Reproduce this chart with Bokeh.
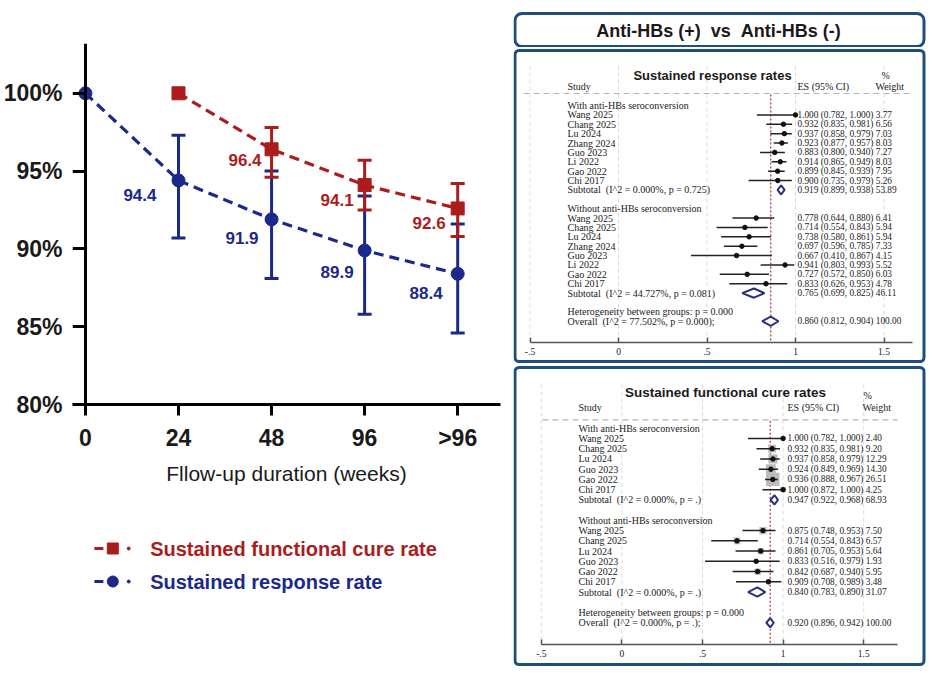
from bokeh.plotting import figure
from bokeh.layouts import row, column
from bokeh.models import Range1d, FixedTicker, LinearAxis, BoxAnnotation, ColumnDataSource
from bokeh.core.properties import value
from bokeh.embed import file_html
from bokeh.resources import INLINE

NB = "\u00a0"  # keeps doubled spaces visible in SVG text

# ---------------- follow-up chart data ----------------
weeks = ["0", "24", "48", "96", ">96"]

response_rate = [100.0, 94.4, 91.9, 89.9, 88.4]
response_lower = [None, 90.7, 88.1, 85.8, 84.6]
response_upper = [None, 97.3, 95.0, 93.4, 91.6]

cure_weeks = ["24", "48", "96", ">96"]
cure_rate = [100.0, 96.4, 94.1, 92.6]
cure_lower = [None, 94.6, 92.5, 90.8]
cure_upper = [None, 97.8, 95.7, 94.2]

y_ticks = [80, 85, 90, 95, 100]
y_tick_labels = ["80%", "85%", "90%", "95%", "100%"]

# ---------------- forest plot data ----------------
resp_with = dict(
    name="With anti-HBs seroconversion",
    study=["Wang 2025", "Chang 2025", "Lu 2024", "Zhang 2024", "Guo 2023", "Li 2022", "Gao 2022", "Chi 2017"],
    es=[1.000, 0.932, 0.937, 0.923, 0.883, 0.914, 0.899, 0.900],
    lo=[0.782, 0.835, 0.858, 0.877, 0.800, 0.865, 0.845, 0.735],
    hi=[1.000, 0.981, 0.979, 0.957, 0.940, 0.949, 0.939, 0.979],
    wt=[3.77, 6.56, 7.03, 8.03, 7.27, 8.03, 7.95, 5.26],
    sub=[0.919, 0.899, 0.938, 53.89],
    sub_label="Subtotal" + NB + NB + "(I^2 = 0.000%, p = 0.725)",
)
resp_without = dict(
    name="Without anti-HBs seroconversion",
    study=["Wang 2025", "Chang 2025", "Lu 2024", "Zhang 2024", "Guo 2023", "Li 2022", "Gao 2022", "Chi 2017"],
    es=[0.778, 0.714, 0.738, 0.697, 0.667, 0.941, 0.727, 0.833],
    lo=[0.644, 0.554, 0.580, 0.596, 0.410, 0.803, 0.572, 0.626],
    hi=[0.880, 0.843, 0.861, 0.785, 0.867, 0.993, 0.850, 0.953],
    wt=[6.41, 5.94, 5.94, 7.33, 4.15, 5.52, 6.03, 4.78],
    sub=[0.765, 0.699, 0.825, 46.11],
    sub_label="Subtotal" + NB + NB + "(I^2 = 44.727%, p = 0.081)",
)
resp_overall = [0.860, 0.812, 0.904, 100.00]
resp_overall_label = "Overall" + NB + NB + "(I^2 = 77.502%, p = 0.000);"

cure_with = dict(
    name="With anti-HBs seroconversion",
    study=["Wang 2025", "Chang 2025", "Lu 2024", "Guo 2023", "Gao 2022", "Chi 2017"],
    es=[1.000, 0.932, 0.937, 0.924, 0.936, 1.000],
    lo=[0.782, 0.835, 0.858, 0.849, 0.888, 0.872],
    hi=[1.000, 0.981, 0.979, 0.969, 0.967, 1.000],
    wt=[2.40, 9.20, 12.29, 14.30, 26.51, 4.25],
    sub=[0.947, 0.922, 0.968, 68.93],
    sub_label="Subtotal" + NB + NB + "(I^2 = 0.000%, p = .)",
)
cure_without = dict(
    name="Without anti-HBs seroconversion",
    study=["Wang 2025", "Chang 2025", "Lu 2024", "Guo 2023", "Gao 2022", "Chi 2017"],
    es=[0.875, 0.714, 0.861, 0.833, 0.842, 0.909],
    lo=[0.748, 0.554, 0.705, 0.516, 0.687, 0.708],
    hi=[0.953, 0.843, 0.953, 0.979, 0.940, 0.989],
    wt=[7.50, 6.57, 5.64, 1.93, 5.95, 3.48],
    sub=[0.840, 0.783, 0.890, 31.07],
    sub_label="Subtotal" + NB + NB + "(I^2 = 0.000%, p = .)",
)
cure_overall = [0.920, 0.896, 0.942, 100.00]
cure_overall_label = "Overall" + NB + NB + "(I^2 = 0.000%, p = .);"

het_label = "Heterogeneity between groups: p = 0.000"
forest_ticks = [-0.5, 0, 0.5, 1, 1.5]
forest_tick_labels = ["-.5", "0", ".5", "1", "1.5"]

header_title = "Anti-HBs (+)" + NB + NB + "vs" + NB + NB + "Anti-HBs (-)"

# ---------------- styling ----------------
BLUE = "#1b2a8a"
RED = "#ab1d1d"
BORDER = "#1d4e7e"
DIAMOND = "#2a2e80"
REFLINE = "#b23a48"
INK = "#1a1a1a"
SANS = "Liberation Sans"
SERIF = "Liberation Serif"


def put_text(fig, x, y, s, size, font=SERIF, style="normal", color=INK, align="left"):
    fig.text(x=[x], y=[y], text=[s], text_font=value(font), text_font_size=size,
             text_font_style=style, text_color=color, text_align=align, text_baseline="middle")


def bare(fig):
    fig.outline_line_color = None
    fig.grid.visible = False
    fig.xgrid.visible = False
    fig.ygrid.visible = False


def frame_box(left, right, top, bottom, radius):
    return BoxAnnotation(left=left, right=right, top=top, bottom=bottom,
                         fill_color=None, fill_alpha=0, line_color=BORDER, line_alpha=1.0,
                         line_width=3, border_radius=radius)


# ================= follow-up chart =================
p = figure(width=513, height=500, x_range=Range1d(-0.139, 4.46), y_range=Range1d(80, 103.2),
           output_backend="svg", toolbar_location=None,
           min_border_left=70, min_border_right=13, min_border_top=43, min_border_bottom=96)
bare(p)

label_font = dict(major_label_text_font=SANS, major_label_text_font_style="bold",
                  major_label_text_font_size="23px", major_label_text_color=INK)

# y tick labels sit on the ordinary left axis; the axis line and ticks are drawn at week 0
ylab = p.yaxis[0]
ylab.ticker = FixedTicker(ticks=y_ticks)
ylab.major_label_overrides = dict(zip(y_ticks, y_tick_labels))
ylab.axis_line_color = None
ylab.major_tick_line_color = None
ylab.minor_tick_line_color = None
ylab.major_label_standoff = 4
for k, v in label_font.items():
    setattr(ylab, k, v)

yline = LinearAxis(fixed_location=0, ticker=FixedTicker(ticks=y_ticks),
                   major_label_text_alpha=0, major_label_text_font_size="1px")
yline.axis_line_width = 3
yline.axis_line_color = "black"
yline.major_tick_line_width = 3
yline.major_tick_line_color = "black"
yline.major_tick_in = 0
yline.major_tick_out = 13
yline.minor_tick_in = 0
yline.minor_tick_out = 0
p.add_layout(yline, "left")

x_pos = list(range(len(weeks)))
xa = p.xaxis[0]
xa.ticker = FixedTicker(ticks=x_pos)
xa.major_label_overrides = dict(zip(x_pos, weeks))
xa.axis_line_width = 3
xa.axis_line_color = "black"
xa.major_tick_line_width = 3
xa.major_tick_line_color = "black"
xa.major_tick_in = 0
xa.major_tick_out = 11
xa.minor_tick_in = 0
xa.minor_tick_out = 0
xa.major_label_standoff = 9
for k, v in label_font.items():
    setattr(xa, k, v)
xa.axis_label = "Fllow-up duration (weeks)"
xa.axis_label_text_font = SANS
xa.axis_label_text_font_style = "normal"
xa.axis_label_text_font_size = "21px"
xa.axis_label_text_color = INK
xa.axis_label_standoff = 8


def series(fig, xs, ys, lows, highs, color, marker, labels_dx, labels_dy):
    bx = [x for x, l in zip(xs, lows) if l is not None]
    bl = [l for l in lows if l is not None]
    bh = [h for h in highs if h is not None]
    fig.segment(x0=bx, y0=bl, x1=bx, y1=bh, line_color=color, line_width=3)
    fig.scatter(x=bx + bx, y=bl + bh, marker="dash", size=14, line_color=color, line_width=3)
    fig.line(x=xs, y=ys, line_color=color, line_width=3.2, line_dash="10 6")
    fig.scatter(x=xs, y=ys, marker=marker, size=13, fill_color=color, line_color=color)
    ly = [y for y, l in zip(ys, lows) if l is not None]
    src = ColumnDataSource(dict(x=bx, y=ly, text=[f"{v:.1f}" for v in ly],
                                dx=labels_dx, dy=labels_dy))
    fig.text(x="x", y="y", text="text", x_offset="dx", y_offset="dy", source=src,
             text_font=value(SANS), text_font_style="bold", text_font_size="17px",
             text_color=color, text_align="right", text_baseline="middle")


series(p, x_pos, response_rate, response_lower, response_upper, BLUE, "circle",
       [-22, -13, -11, -15], [15, 19, 22, 19])
cure_x = [weeks.index(w) for w in cure_weeks]
series(p, cure_x, cure_rate, cure_lower, cure_upper, RED, "square",
       [-10, -11, -12], [11, 15, 15])

# ---------------- legend (frame shares the chart's 70..500 px columns) ----------------
leg = figure(width=513, height=175, x_range=Range1d(70, 500), y_range=Range1d(675, 500),
             x_axis_location=None, y_axis_location=None,
             min_border_left=70, min_border_right=13, min_border_top=0, min_border_bottom=0,
             output_backend="svg", toolbar_location=None)
bare(leg)
legend_items = [("Sustained functional cure rate", RED, "square", 548),
                ("Sustained response rate", BLUE, "circle", 581)]
for label, color, marker, yy in legend_items:
    leg.segment(x0=[92], y0=[yy], x1=[101], y1=[yy], line_color=color, line_width=3)
    leg.scatter(x=[110.5], y=[yy], marker=marker, size=11, fill_color=color, line_color=color)
    leg.scatter(x=[126.5], y=[yy], marker="circle", size=3, fill_color=color, line_color=color)
    put_text(leg, 148, yy, label, "20px", font=SANS, style="bold", color=color)

# ================= header box =================
head = figure(width=429, height=47, x_range=Range1d(513, 942), y_range=Range1d(47, 0),
              x_axis_location=None, y_axis_location=None, min_border=0,
              output_backend="svg", toolbar_location=None)
bare(head)
head.add_layout(frame_box(514.5, 923.5, 13, 46, 7))
put_text(head, 718, 30, header_title, "18px", font=SANS, style="bold", color=INK, align="center")


# ================= forest plots =================
def make_forest(title, groups, overall, overall_label, g):
    X0, XS, Y0, YS = g["X0"], g["XS"], g["Y0"], g["YS"]

    def vx(px):
        return (px - X0) / XS

    def ry(py):
        return (py - Y0) / YS

    top, h = g["page_top"], g["height"]
    f = figure(width=429, height=h, x_range=Range1d(vx(513), vx(942)),
               y_range=Range1d(ry(top + h), ry(top)), x_axis_location=None, y_axis_location=None,
               min_border=0, output_backend="svg", toolbar_location=None)
    bare(f)
    axis_row = ry(g["axis_py"])

    # faint vertical guides at the tick positions
    f.segment(x0=forest_ticks, x1=forest_ticks, y0=[ry(g["grid_py"])] * len(forest_ticks),
              y1=[axis_row] * len(forest_ticks), line_color="#dcdcdc", line_width=1,
              line_dash="4 3")
    # header separator
    f.segment(x0=[vx(g["sep_x0"])], x1=[vx(g["sep_x1"])], y0=[ry(g["sep_py"])], y1=[ry(g["sep_py"])],
              line_color="#b4b4b4", line_width=1.2, line_dash="6 4")
    # overall estimate reference line
    f.segment(x0=[overall[0]], x1=[overall[0]], y0=[ry(g["sep_py"]) + 0.1], y1=[axis_row],
              line_color=REFLINE, line_width=1.3, line_dash="2 2")

    lab_y, lab_t = [], []
    s_es, s_lo, s_hi, s_wt, s_y = [], [], [], [], []
    d_xs, d_ys = [], []
    v_y, v_t = [], []
    half = 4.6 / YS
    r = 0
    for grp in groups:
        lab_y.append(r); lab_t.append(grp["name"]); r += 1
        for name, es, lo, hi, wt in zip(grp["study"], grp["es"], grp["lo"], grp["hi"], grp["wt"]):
            lab_y.append(r); lab_t.append(name)
            s_es.append(es); s_lo.append(lo); s_hi.append(hi); s_wt.append(wt); s_y.append(r)
            v_y.append(r); v_t.append(f"{es:.3f} ({lo:.3f}, {hi:.3f}) {wt:.2f}")
            r += 1
        es, lo, hi, wt = grp["sub"]
        lab_y.append(r); lab_t.append(grp["sub_label"])
        d_xs.append([lo, es, hi, es]); d_ys.append([r, r - half, r, r + half])
        v_y.append(r); v_t.append(f"{es:.3f} ({lo:.3f}, {hi:.3f}) {wt:.2f}")
        r += 2
    lab_y.append(r); lab_t.append(het_label); r += 1
    es, lo, hi, wt = overall
    lab_y.append(r); lab_t.append(overall_label)
    d_xs.append([lo, es, hi, es]); d_ys.append([r, r - half, r, r + half])
    v_y.append(r); v_t.append(f"{es:.3f} ({lo:.3f}, {hi:.3f}) {wt:.2f}")

    if g["boxes"]:
        f.scatter(x=s_es, y=s_y, marker="square", size=[2.6 * w ** 0.5 for w in s_wt],
                  fill_color="#bcbcbc", line_color=None)
    f.segment(x0=s_lo, x1=s_hi, y0=s_y, y1=s_y, line_color="#222222", line_width=1.5)
    f.scatter(x=s_es, y=s_y, marker="circle", size=4.5, fill_color="#111111", line_color="#111111")
    f.patches(xs=d_xs, ys=d_ys, fill_color="white", line_color=DIAMOND, line_width=2)

    f.text(x=[vx(g["lab_px"])] * len(lab_y), y=lab_y, text=lab_t, text_font=value(SERIF),
           text_font_size="10px", text_color=INK, text_baseline="middle")
    f.text(x=[vx(g["es_px"])] * len(v_y), y=v_y, text=v_t, text_font=value(SERIF),
           text_font_size="9.3px", text_color=INK, text_baseline="middle")

    put_text(f, vx(g["lab_px"]), ry(g["hdr_py"]), "Study", "10px")
    put_text(f, vx(g["es_px"]), ry(g["hdr_py"]), "ES (95% CI)", "10px")
    put_text(f, vx(g["wt_px"]), ry(g["hdr_py"]), "Weight", "10px")
    put_text(f, vx(g["pct_px"]), ry(g["pct_py"]), "%", "10px")
    put_text(f, vx(g["title_px"]), ry(g["title_py"]), title, g["title_size"], font=SANS,
             style="bold", align="center")

    ax = LinearAxis(fixed_location=axis_row, bounds=(-0.5, g["axis_end"]),
                    ticker=FixedTicker(ticks=forest_ticks),
                    major_label_overrides=dict(zip(forest_ticks, forest_tick_labels)))
    ax.axis_line_color = "#555555"
    ax.axis_line_width = 1.5
    ax.major_tick_line_color = "#555555"
    ax.major_tick_line_width = 1.5
    ax.major_tick_in = 5
    ax.major_tick_out = 0
    ax.minor_tick_in = 0
    ax.minor_tick_out = 0
    ax.major_label_text_font = SERIF
    ax.major_label_text_font_size = "9.5px"
    ax.major_label_text_color = INK
    ax.major_label_standoff = 6
    f.add_layout(ax, "below")

    f.add_layout(frame_box(vx(514.5), vx(923.5), ry(g["box_top"]), ry(g["box_bottom"]), 4))
    return f


geo1 = dict(X0=618, XS=177, Y0=105, YS=9.38, page_top=47, height=317,
            box_top=50, box_bottom=361, axis_py=341.7, axis_end=1.66, grid_py=65,
            sep_x0=523, sep_x1=910, sep_py=93, lab_px=567, es_px=797, wt_px=875, pct_px=881,
            hdr_py=85.5, pct_py=75, title_px=712, title_py=75, title_size="13px", boxes=False)
geo2 = dict(X0=621.4, XS=161.2, Y0=427.7, YS=10.24, page_top=364, height=311,
            box_top=367, box_bottom=664, axis_py=643.5, axis_end=1.71, grid_py=384,
            sep_x0=542, sep_x1=897, sep_py=419.3, lab_px=578, es_px=787, wt_px=862, pct_px=863,
            hdr_py=407, pct_py=395, title_px=725, title_py=392, title_size="13.5px", boxes=True)

f1 = make_forest("Sustained response rates", [resp_with, resp_without], resp_overall,
                 resp_overall_label, geo1)
f2 = make_forest("Sustained functional cure rates", [cure_with, cure_without], cure_overall,
                 cure_overall_label, geo2)

page = row(column(p, leg, spacing=0), column(head, f1, f2, spacing=0), spacing=0)
open("out.html", "w").write(file_html(page, INLINE))
